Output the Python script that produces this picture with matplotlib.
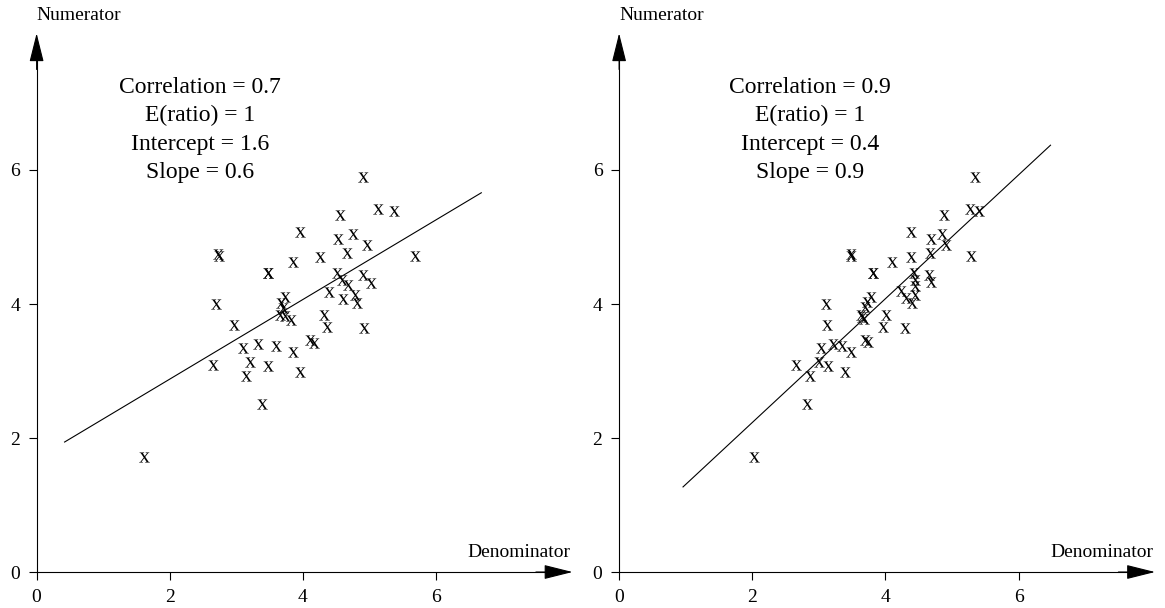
import numpy as np
import matplotlib
matplotlib.use('Agg')
import matplotlib.pyplot as plt
from matplotlib.textpath import TextPath
from matplotlib.font_manager import FontProperties
from matplotlib.path import Path

plt.rcParams['font.family'] = ['Liberation Serif', 'DejaVu Serif']

# left panel (correlation 0.7)
den_left = [4.90, 5.13, 5.37, 4.55, 3.96, 4.52, 4.75, 4.96, 2.72, 2.74,
            4.25, 4.66, 5.69, 3.85, 3.48, 3.48, 4.51, 4.58, 4.68, 4.90,
            5.02, 4.39, 4.60, 4.78, 4.81, 2.69, 3.73, 3.67, 3.70, 3.65,
            3.73, 3.82, 4.31, 4.36, 4.92, 2.97, 3.10, 3.33, 3.59, 3.85,
            4.11, 4.16, 2.65, 3.20, 3.47, 3.14, 3.96, 3.38, 1.61]
num_left = [5.90, 5.42, 5.39, 5.33, 5.08, 4.97, 5.05, 4.88, 4.74, 4.72,
            4.70, 4.76, 4.72, 4.62, 4.46, 4.46, 4.47, 4.36, 4.28, 4.43,
            4.32, 4.18, 4.07, 4.13, 4.01, 4.00, 4.11, 4.02, 3.94, 3.84,
            3.82, 3.76, 3.84, 3.65, 3.64, 3.68, 3.35, 3.40, 3.37, 3.28,
            3.46, 3.42, 3.09, 3.13, 3.08, 2.92, 2.98, 2.51, 1.71]

# right panel (correlation 0.9)
den_right = [5.35, 5.27, 5.41, 4.88, 4.39, 4.68, 4.85, 4.91, 3.48, 3.49,
             4.10, 4.39, 4.67, 5.28, 3.81, 3.81, 4.43, 4.44, 4.45, 4.65,
             4.68, 4.23, 4.31, 4.44, 4.40, 3.11, 3.79, 3.72, 3.70, 3.63,
             3.65, 3.68, 4.01, 3.96, 4.30, 3.12, 3.04, 3.21, 3.35, 3.48,
             3.70, 3.74, 2.66, 3.00, 3.14, 2.86, 3.39, 2.82, 2.03]
num_right = [5.90, 5.42, 5.39, 5.33, 5.08, 4.97, 5.05, 4.88, 4.74, 4.72,
             4.62, 4.70, 4.76, 4.72, 4.46, 4.46, 4.47, 4.36, 4.27, 4.43,
             4.33, 4.20, 4.09, 4.13, 4.01, 4.00, 4.11, 4.03, 3.96, 3.84,
             3.81, 3.77, 3.84, 3.66, 3.64, 3.68, 3.35, 3.40, 3.38, 3.28,
             3.46, 3.44, 3.09, 3.13, 3.08, 2.92, 2.98, 2.51, 1.71]

# fitted lines (end points)
fit_left_x = [0.42, 6.68]
fit_left_y = [1.94, 5.66]
fit_right_x = [0.96, 6.48]
fit_right_y = [1.27, 6.37]

labels_left = ['Correlation = 0.7', 'E(ratio) = 1', 'Intercept = 1.6', 'Slope = 0.6']
labels_right = ['Correlation = 0.9', 'E(ratio) = 1', 'Intercept = 0.4', 'Slope = 0.9']

ticks = [0, 2, 4, 6]


def x_marker():
    # lowercase serif "x" as a marker, centred on the point
    tp = TextPath((0, 0), 'x', size=1, prop=FontProperties(family='Liberation Serif'))
    ext = tp.get_extents()
    centre = np.array([(ext.x0 + ext.x1) / 2, (ext.y0 + ext.y1) / 2])
    return Path(tp.vertices - centre, tp.codes)


XM = x_marker()


def draw_panel(ax, den, num, fit_x, fit_y, labels, text_x):
    ax.scatter(den, num, marker=XM, s=62, c='k', linewidths=0)
    ax.plot(fit_x, fit_y, c='k', lw=0.8)
    ax.text(text_x, 6.60, '\n'.join(labels), ha='center', va='center',
            fontsize=17, linespacing=1.46)
    # axes through origin with arrows
    for s in ['top', 'right']:
        ax.spines[s].set_visible(False)
    for s in ['left', 'bottom']:
        ax.spines[s].set_position(('data', 0))
        ax.spines[s].set_linewidth(0.8)
        ax.spines[s].set_bounds(0, 7.8)
    ax.set_xticks(ticks)
    ax.set_yticks(ticks)
    ax.tick_params(direction='out', length=6, width=0.8, labelsize=14, pad=6)
    arrow = dict(arrowstyle='-|>,head_length=1.8,head_width=0.45', mutation_scale=10,
                 color='k', lw=0.8, shrinkA=0, shrinkB=0)
    ax.annotate('', xy=(8.05, 0), xytext=(7.5, 0), arrowprops=arrow)
    ax.annotate('', xy=(0, 8.04), xytext=(0, 7.5), arrowprops=arrow)
    ax.text(0, 8.30, 'Numerator', ha='left', va='center', fontsize=14)
    ax.text(8.02, 0.29, 'Denominator', ha='right', va='center', fontsize=14)
    ax.set_xlim(-0.55, 8.2)
    ax.set_ylim(-0.537, 8.537)


fig = plt.figure(figsize=(11.65, 6.08), dpi=100)
ax1 = fig.add_axes([0, 0, 0.5, 1])
ax2 = fig.add_axes([0.5, 0, 0.5, 1])
draw_panel(ax1, den_left, num_left, fit_left_x, fit_left_y, labels_left, 2.45)
draw_panel(ax2, den_right, num_right, fit_right_x, fit_right_y, labels_right, 2.87)

fig.savefig('out.png', dpi=100)
